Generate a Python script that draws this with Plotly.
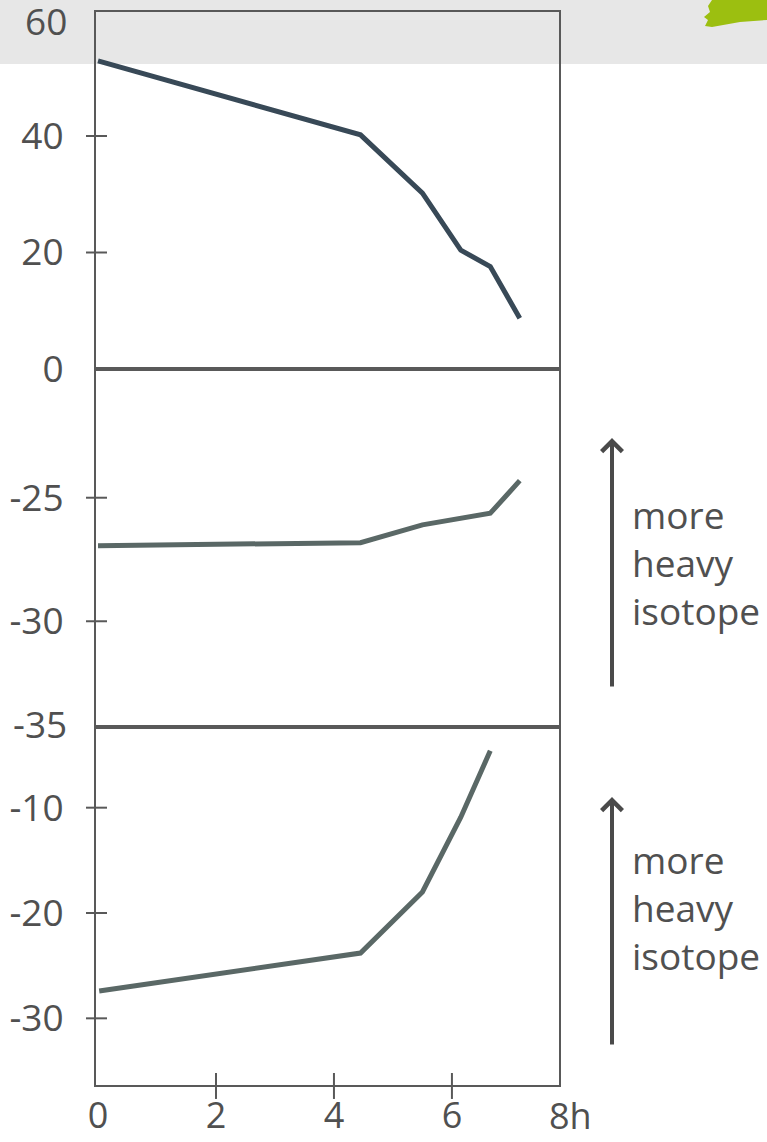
import plotly.graph_objects as go
from plotly.subplots import make_subplots

# ---- data ----
hours = [0, 4.45, 5.5, 6.15, 6.65, 7.15]
conc_top = [52.9, 40.2, 30.2, 20.4, 17.6, 8.7]
delta_mid = [-26.94, -26.82, -26.10, -25.83, -25.63, -24.31]
hours_bottom = [0.02, 4.45, 5.5, 6.15, 6.65]
delta_bottom = [-27.4, -23.8, -18.0, -10.9, -4.6]

top_ticks = [0, 20, 40]
top_ticktext = ["0", "20", "40"]
top_label_max = "60"
mid_ticks = [-25, -30]
mid_ticktext = ["-25", "-30"]
mid_label_min = "-35"
bottom_ticks = [-10, -20, -30]
bottom_ticktext = ["-10", "-20", "-30"]
x_ticks = [0, 2, 4, 6]
x_ticktext = ["0", "2", "4", "6"]
x_label_end = "8h"

FONT = "Open Sans"
TXT = "#505050"
FRAME = "#595959"
TICKSIZE = 37
XTICKSIZE = 36
TEXTSIZE = 37

fig = make_subplots(rows=3, cols=1, shared_xaxes=True, vertical_spacing=0)

fig.add_trace(go.Scatter(x=hours, y=conc_top, mode="lines",
                         line=dict(color="#384957", width=5), showlegend=False), row=1, col=1)
fig.add_trace(go.Scatter(x=hours, y=delta_mid, mode="lines",
                         line=dict(color="#5a6866", width=5), showlegend=False), row=2, col=1)
fig.add_trace(go.Scatter(x=hours_bottom, y=delta_bottom, mode="lines",
                         line=dict(color="#5a6866", width=5), showlegend=False), row=3, col=1)

W, H = 767, 1142
xdom = [96 / W, 558.7 / W]
def ydom(top_px, bot_px):
    return [(H - bot_px) / H, (H - top_px) / H]

xr = [-0.034, 7.81]
common_x = dict(range=xr, domain=xdom, showline=True, mirror=True, linecolor=FRAME,
                linewidth=2, showgrid=False, zeroline=False, ticks="", automargin=False)
fig.update_layout(
    xaxis=dict(**common_x, showticklabels=False),
    xaxis2=dict(**common_x, showticklabels=False),
    xaxis3=dict(**common_x, tickvals=x_ticks, ticktext=x_ticktext,
                tickfont=dict(family=FONT, size=XTICKSIZE, color=TXT), ticklabelstandoff=-2,
                ticklabeloverflow="allow"),
)
common_y = dict(showline=True, mirror=True, linecolor=FRAME, linewidth=2, showgrid=False,
                zeroline=False, ticks="", tickfont=dict(family=FONT, size=TICKSIZE, color=TXT),
                ticklabelstandoff=23, ticklabeloverflow="allow", automargin=False)
fig.update_layout(
    yaxis=dict(**common_y, range=[0, 61.29], domain=ydom(12, 369),
               tickvals=top_ticks, ticktext=top_ticktext),
    yaxis2=dict(**common_y, range=[-34.28, -19.79], domain=ydom(369, 727),
                tickvals=mid_ticks, ticktext=mid_ticktext),
    yaxis3=dict(**common_y, range=[-36.33, -2.34], domain=ydom(727, 1085),
                tickvals=bottom_ticks, ticktext=bottom_ticktext),
)

shapes = []
# grey header band
shapes.append(dict(type="rect", xref="paper", yref="paper", x0=0, x1=1,
                   y0=(H - 64) / H, y1=1, fillcolor="#e7e7e7", line=dict(width=0), layer="below"))
# green blob top-right
def px(x, y):
    return f"{x / W:.5f},{(H - y) / H:.5f}"
blob = ("M" + px(712, 0) + " L" + px(767, 0) + " L" + px(767, 20) + " L" + px(740, 22)
        + " L" + px(712, 27) + " L" + px(705, 26) + " L" + px(708, 20) + " L" + px(704, 17)
        + " L" + px(710, 12) + " L" + px(708, 6) + " Z")
shapes.append(dict(type="path", xref="paper", yref="paper", path=blob,
                   fillcolor="#9cbf10", line=dict(width=0), layer="below"))
# y tick marks crossing the axis
for yref, vals in (("y", [20, 40]), ("y2", mid_ticks), ("y3", bottom_ticks)):
    for v in vals:
        shapes.append(dict(type="line", xref="x domain", yref=yref, x0=-0.0216, x1=0.0238,
                           y0=v, y1=v, line=dict(color=FRAME, width=2)))
# x tick marks crossing the axis
for v in [2, 4, 6]:
    shapes.append(dict(type="line", xref="x3", yref="y3 domain", x0=v, x1=v,
                       y0=-0.039, y1=0.0335, line=dict(color=FRAME, width=2)))

annotations = []
annotations.append(dict(x=570 / W, y=(H - 1085) / H, xref="paper", yref="paper", text=x_label_end,
                        showarrow=False, xanchor="center", yanchor="top", yshift=-4,
                        font=dict(family=FONT, size=XTICKSIZE, color=TXT)))
annotations.append(dict(x=69 / W, y=1, xref="paper", yref="paper", text=top_label_max,
                        showarrow=False, xanchor="right", yanchor="top", yshift=7,
                        font=dict(family=FONT, size=TICKSIZE, color=TXT)))
annotations.append(dict(x=69 / W, y=0, xref="paper", yref="y2 domain", text=mid_label_min,
                        showarrow=False, xanchor="right", yanchor="middle", yshift=4,
                        font=dict(family=FONT, size=TICKSIZE, color=TXT)))
for tip, tail, mid in ((438, 688, 562), (797, 1046, 907)):
    annotations.append(dict(x=612 / W, y=(H - tip) / H, xref="paper", yref="paper",
                            ax=0, ay=tail - tip, axref="pixel", ayref="pixel",
                            text="", showarrow=True, arrowhead=4, arrowsize=1, arrowwidth=4,
                            arrowcolor="#4a4a4a", standoff=0, startstandoff=0))
    annotations.append(dict(x=630 / W, y=(H - mid) / H, xref="paper", yref="paper",
                            text="more<br>heavy<br>isotope", showarrow=False, align="left",
                            xanchor="left", yanchor="middle",
                            font=dict(family=FONT, size=TEXTSIZE, color=TXT)))

fig.update_layout(
    width=W, height=H, margin=dict(l=0, r=0, t=0, b=0, autoexpand=False),
    paper_bgcolor="white", plot_bgcolor="rgba(0,0,0,0)",
    shapes=shapes, annotations=annotations, showlegend=False,
)

fig.write_html("out.html",
               post_script="document.body.style.margin='0';document.body.style.padding='0';"
                           "document.documentElement.style.overflow='hidden';")
